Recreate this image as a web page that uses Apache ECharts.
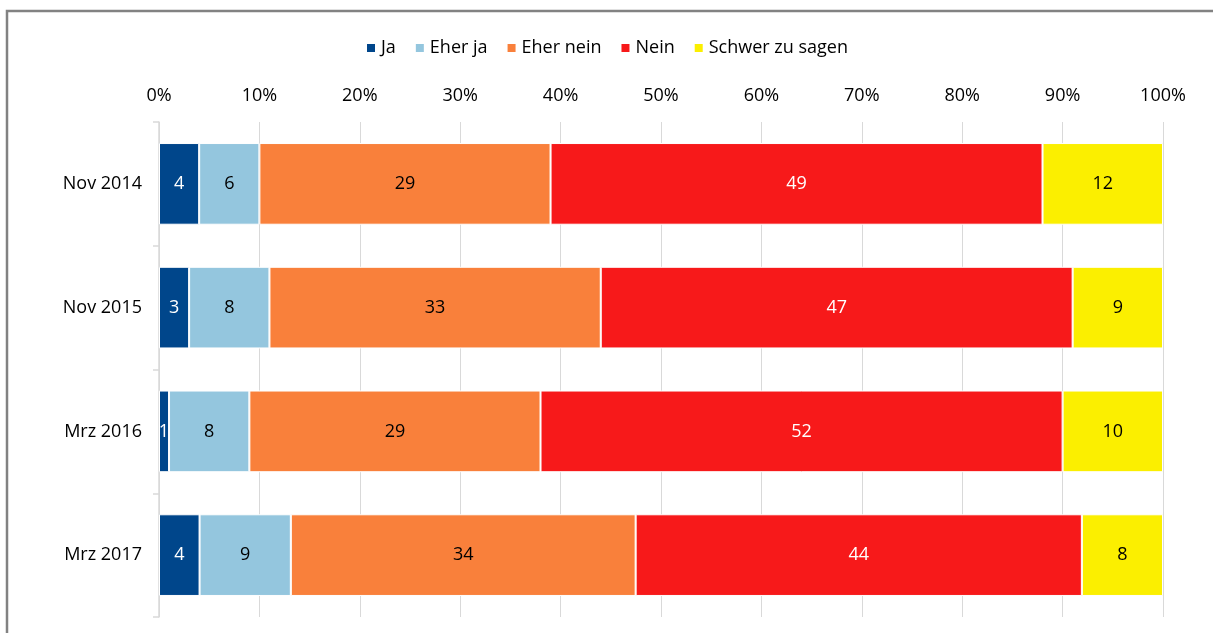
<!DOCTYPE html>
<html>
<head>
<meta charset="utf-8">
<script src="https://cdn.jsdelivr.net/npm/echarts@6/dist/echarts.min.js"></script>
<style>
  html, body { margin: 0; padding: 0; background: #fff; }
  #chart { width: 1213px; height: 633px; }
</style>
</head>
<body>
<div id="chart"></div>
<script>
// Survey waves (rows, top to bottom)
const categories = ['Nov 2014', 'Nov 2015', 'Mrz 2016', 'Mrz 2017'];

// Answer shares in percent per wave
const ja        = [4, 3, 1, 4];
const eherJa    = [6, 8, 8, 9];
const eherNein  = [29, 33, 29, 34];
const nein      = [49, 47, 52, 44];
const schwer    = [12, 9, 10, 8];

const xTicks = ['0%', '10%', '20%', '30%', '40%', '50%', '60%', '70%', '80%', '90%', '100%'];

const seriesDefs = [
  { name: 'Ja',              data: ja,       color: '#00468B', text: '#ffffff' },
  { name: 'Eher ja',         data: eherJa,   color: '#94C6DE', text: '#000000' },
  { name: 'Eher nein',       data: eherNein, color: '#F9803B', text: '#000000' },
  { name: 'Nein',            data: nein,     color: '#F7191A', text: '#ffffff' },
  { name: 'Schwer zu sagen', data: schwer,   color: '#FBEF00', text: '#000000' }
];

// Each row is drawn as a 100 % stacked bar: segment length = share of the row total
const totals = categories.map((_, i) => seriesDefs.reduce((s, d) => s + d.data[i], 0));

const FONT = '"Open Sans", "Noto Sans", sans-serif';
const FS = 18;

const chart = echarts.init(document.getElementById('chart'), null, { renderer: 'canvas' });

chart.setOption({
  animation: false,
  textStyle: { fontFamily: FONT },
  graphic: [{
    type: 'rect',
    shape: { x: 7, y: 11, width: 1300, height: 700 },
    style: { fill: 'none', stroke: '#828282', lineWidth: 2.5 },
    silent: true,
    z: -10
  }],
  legend: {
    top: 34,
    left: 'center',
    icon: 'rect',
    itemWidth: 10,
    itemHeight: 10,
    itemGap: 18,
    textStyle: { fontFamily: FONT, fontSize: FS, color: '#000' },
    data: seriesDefs.map(d => d.name)
  },
  grid: { left: 159, right: 50, top: 122, bottom: 16, containLabel: false },
  xAxis: {
    type: 'value',
    position: 'top',
    min: 0,
    max: 100,
    interval: 10,
    axisLine: { show: false },
    axisTick: { show: false },
    axisLabel: {
      margin: 17,
      fontFamily: FONT,
      fontSize: FS,
      color: '#000',
      formatter: (v) => xTicks[Math.round(v / 10)]
    },
    splitLine: { show: true, lineStyle: { color: '#D9D9D9', width: 1 } }
  },
  yAxis: {
    type: 'category',
    inverse: true,
    data: categories,
    axisLine: { show: true, lineStyle: { color: '#D9D9D9', width: 1.5 } },
    axisTick: { show: true, length: 6, inside: false, lineStyle: { color: '#D9D9D9', width: 1.5 } },
    axisLabel: { margin: 17, fontFamily: FONT, fontSize: FS, color: '#000' },
    splitLine: { show: false }
  },
  series: seriesDefs.map(d => ({
    name: d.name,
    type: 'bar',
    stack: 'total',
    barWidth: '66%',
    itemStyle: { color: d.color, borderColor: '#ffffff', borderWidth: 1 },
    label: {
      show: true,
      position: 'inside',
      fontFamily: FONT,
      fontSize: FS,
      color: d.text,
      formatter: (p) => String(d.data[p.dataIndex])
    },
    data: d.data.map((v, i) => v / totals[i] * 100)
  }))
});
</script>
</body>
</html>
